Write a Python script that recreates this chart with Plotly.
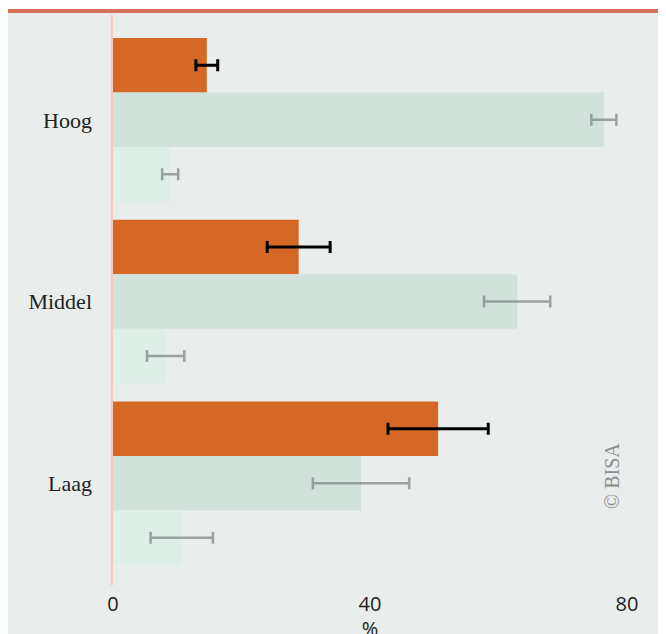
import plotly.graph_objects as go

categories = ["Hoog", "Middel", "Laag"]
series_names = ["Serie 1", "Serie 2", "Serie 3"]
values_1 = [14.6, 28.9, 50.6]
errors_1 = [1.7, 4.9, 7.8]
values_2 = [76.4, 62.9, 38.6]
errors_2 = [1.95, 5.15, 7.5]
values_3 = [8.9, 8.2, 10.7]
errors_3 = [1.25, 2.9, 4.85]
x_ticks = [0, 40, 80]

colors = ["#d66826", "#d2e1da", "#dfefe7"]
err_colors = ["#000000", "rgba(130,135,135,0.75)", "rgba(130,135,135,0.75)"]
err_thick = [3, 2.5, 2.5]

fig = go.Figure()
for name, vals, errs, c, ec, et in zip(series_names, [values_1, values_2, values_3],
                                       [errors_1, errors_2, errors_3], colors, err_colors, err_thick):
    fig.add_trace(go.Bar(
        y=categories, x=vals, orientation="h", name=name,
        marker=dict(color=c, line=dict(width=0)),
        error_x=dict(type="data", array=errs, visible=True, color=ec, thickness=et, width=6),
        showlegend=False,
        cliponaxis=False,
    ))

W, H = 666, 634
OFF = 8  # page offset of the figure
L, R, T, B = 105, 47, 21, 68
pw = W - L - R
ph = H - T - B


def px(xpage):
    return (xpage - OFF - L) / pw


def py(ypage):
    return (H - B - (ypage - OFF)) / ph


shapes = [
    dict(type="rect", xref="paper", yref="paper", x0=px(7), x1=px(W + 20), y0=py(H + 20), y1=py(13),
         fillcolor="#e9edeb", line=dict(width=0), layer="below"),
    dict(type="rect", xref="paper", yref="paper", x0=px(7), x1=px(W + 20), y0=py(13), y1=py(9),
         fillcolor="#d6705a", line=dict(width=0), layer="below"),
    dict(type="line", xref="paper", yref="paper", x0=px(111.8), x1=px(111.8), y0=py(585), y1=py(15),
         line=dict(color="#f3cbbd", width=2.5), layer="above"),
]

fig.update_layout(
    width=W, height=H,
    margin=dict(l=L, r=R, t=T, b=B, autoexpand=False),
    paper_bgcolor="white",
    plot_bgcolor="rgba(0,0,0,0)",
    barmode="group",
    bargap=0.1,
    bargroupgap=0,
    shapes=shapes,
    xaxis=dict(
        range=[0, 80], tickvals=x_ticks, ticktext=[str(v) for v in x_ticks],
        showgrid=False, zeroline=False, showline=False, ticks="",
        tickfont=dict(family="Open Sans", size=20, color="#222222"),
        ticklabelstandoff=16,
        title=dict(text="%", font=dict(family="Open Sans", size=20, color="#222222"), standoff=20),
    ),
    yaxis=dict(
        autorange="reversed", showgrid=False, zeroline=False, showline=False, ticks="",
        tickfont=dict(family="Liberation Serif", size=22, color="#222222"),
        ticklabelstandoff=20,
    ),
    annotations=[
        dict(text="© BISA", xref="paper", yref="paper", x=px(612), y=py(476),
             showarrow=False, textangle=-90, font=dict(family="Liberation Serif", size=20, color="#8a8d8d"),
             xanchor="center", yanchor="middle"),
    ],
)

fig.write_html("out.html")
